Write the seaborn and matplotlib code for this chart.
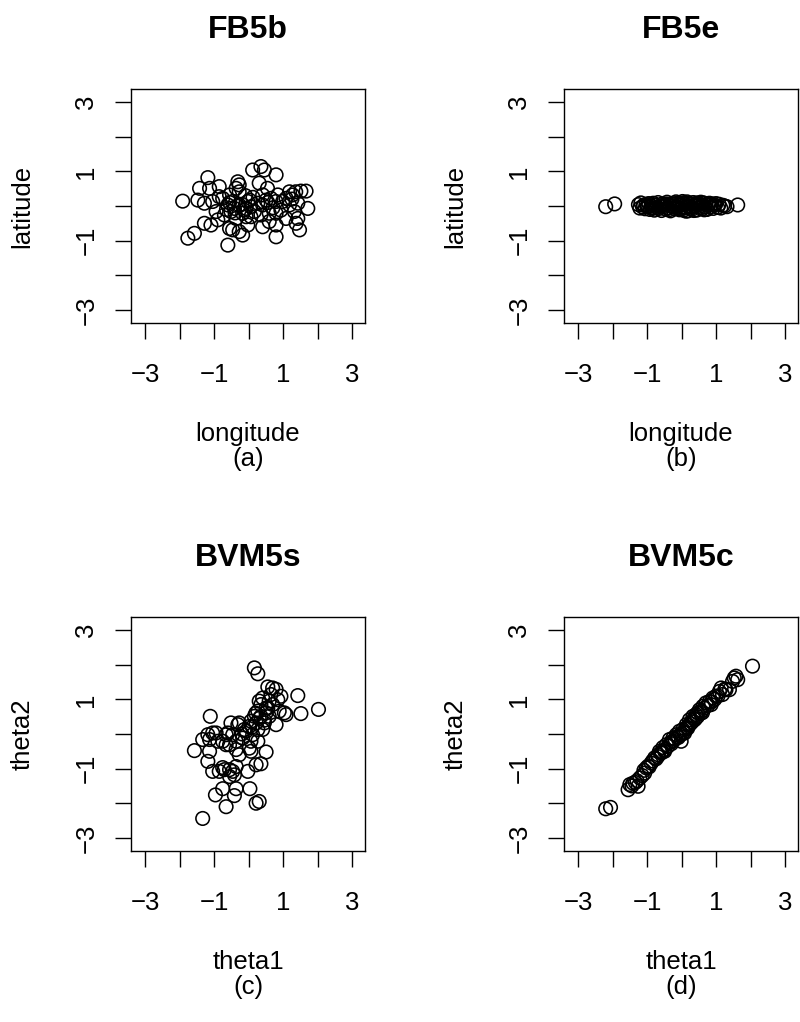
import matplotlib
matplotlib.use("Agg")
import matplotlib.pyplot as plt
import seaborn as sns
import numpy as np
import pandas as pd

# ---------------- data ----------------
titles = ["FB5b", "FB5e", "BVM5s", "BVM5c"]
xlabels = ["longitude\n(a)", "longitude\n(b)", "theta1\n(c)", "theta1\n(d)"]
ylabels = ["latitude", "latitude", "theta2", "theta2"]
tick_values = [-3, -2, -1, 0, 1, 2, 3]
tick_labels = ["\u22123", "", "\u22121", "", "1", "", "3"]

a_x = [-1.92, -1.77, -1.58, -1.19, -1.43, -1.48, -1.29, -1.14, -0.86, -1.05,
       -1.29, -1.10, -0.90, -0.95, -0.76, -0.56, -0.61, -0.61, -0.56, -0.47,
       -0.28, -0.18, -0.37, -0.28, -0.32, -0.37, -0.47, -0.28, -0.13, -0.03,
       0.06, -0.08, -0.03, 0.11, 0.35, 0.45, 0.79, 0.30, 0.54, 0.40,
       0.50, 0.40, 0.64, 0.79, 0.84, 0.98, 0.59, 0.40, 0.59, 0.79,
       0.79, 1.08, 1.27, 1.36, 1.51, 1.66, 1.71, 1.42, 1.32, 1.42,
       1.47, 1.37, 1.18, 1.08, 0.26, 0.16, -0.18, -0.42, -0.71, -0.86,
       0.02, -0.08, -0.52, 0.93, 1.18, 0.35, -0.28, 0.06, 0.79, -0.56,
       -0.20, -0.40, 0.12, 0.55, 0.70, -0.65, 1.25, -0.10]
a_y = [0.14, -0.93, -0.79, 0.82, 0.51, 0.17, 0.08, 0.51, 0.56, 0.13,
       -0.50, -0.55, -0.40, -0.16, 0.22, 0.32, 0.03, -1.13, -0.65, -0.69,
       -0.74, -0.84, -0.36, 0.61, 0.70, 0.51, 0.13, 0.03, -0.12, 0.13,
       -0.02, -0.31, -0.55, 1.04, 1.14, 1.04, 0.90, 0.66, 0.51, 0.32,
       0.17, 0.03, 0.22, 0.13, 0.32, 0.13, -0.21, -0.60, -0.45, -0.55,
       -0.89, -0.36, 0.32, 0.41, 0.43, 0.43, -0.07, 0.08, -0.16, -0.36,
       -0.69, -0.50, 0.03, 0.22, 0.08, -0.16, -0.21, -0.07, -0.26, 0.27,
       0.17, -0.07, -0.16, -0.12, 0.41, -0.26, 0.41, -0.31, -0.21, 0.10,
       0.05, -0.20, 0.25, 0.10, -0.05, -0.10, 0.20, 0.30]

b_x = [-2.21, -1.95, -1.26, -1.22, -1.19, -1.14, -1.11, -1.07, -1.04, -0.99,
       -0.96, -0.93, -0.89, -0.86, -0.83, -0.80, -0.76, -0.73, -0.69, -0.66,
       -0.63, -0.59, -0.57, -0.52, -0.49, -0.47, -0.43, -0.40, -0.37, -0.33,
       -0.30, -0.27, -0.23, -0.20, -0.17, -0.13, -0.11, -0.07, -0.04, 0.00,
       0.03, 0.07, 0.10, 0.12, 0.16, 0.19, 0.23, 0.27, 0.30, 0.33,
       0.36, 0.39, 0.43, 0.46, 0.49, 0.53, 0.57, 0.60, 0.63, 0.67,
       0.70, 0.73, 0.77, 0.80, 0.83, 0.87, 0.91, 0.95, 0.99, 1.04,
       1.08, 1.13, 1.19, 1.24, 1.31, 1.62, -0.55, -0.35, -0.15, 0.05,
       0.15, 0.25, 0.45, 0.65, -0.25, 0.35, 0.55, -0.45, 0.02, -0.05,
       0.18, 0.38, -1.00, -0.80, 0.85]
b_y = [-0.02, 0.06, 0.04, -0.06, 0.09, -0.03, 0.02, -0.08, 0.05, -0.02,
       0.07, -0.10, 0.01, -0.05, 0.08, -0.12, 0.03, -0.04, 0.10, -0.07,
       0.00, -0.13, 0.06, -0.02, 0.04, -0.09, 0.11, -0.05, 0.02, -0.14,
       0.07, -0.01, 0.05, -0.08, 0.12, -0.04, 0.03, -0.11, 0.06, -0.02,
       0.09, -0.06, 0.04, -0.15, 0.01, 0.08, -0.03, 0.05, -0.09, 0.10,
       -0.01, 0.06, -0.12, 0.03, 0.07, -0.05, 0.02, -0.08, 0.09, -0.03,
       0.05, -0.10, 0.04, 0.08, -0.02, 0.06, -0.07, 0.03, 0.07, -0.04,
       0.05, -0.06, 0.02, 0.00, -0.02, 0.03, 0.01, -0.10, 0.08, -0.12,
       0.12, -0.07, 0.09, -0.11, 0.04, -0.13, 0.11, 0.06, 0.13, -0.09,
       -0.14, 0.00, 0.01, -0.06, 0.04]

c_x = [0.16, 0.26, 0.55, 0.69, 0.79, 0.93, 1.42, 1.51, 2.02, 1.03,
       1.08, 0.40, 0.59, 0.35, 0.50, 0.26, 0.16, 0.35, 0.59, 0.79,
       0.45, 0.21, 0.06, 0.01, 0.26, 0.40, 0.11, -0.08, -0.18, 0.26,
       0.06, 0.50, 0.35, 0.21, -0.03, -0.37, -0.37, -0.52, -0.32, -0.47,
       -0.61, -0.76, -0.66, -0.56, -1.12, -1.05, -1.19, -1.34, -1.58, -1.14,
       -1.19, -1.05, -0.86, -0.76, -0.56, -0.42, -0.37, -0.47, -0.76, -0.97,
       -0.37, -0.42, 0.03, -0.66, 0.21, 0.30, -1.34, -0.90, -0.95, -1.14,
       -0.28, -0.13, 0.06, -0.28, 0.50, 0.69, 0.84, 0.64, 0.30, 0.88,
       0.01, -0.66, -0.56, -0.71, 0.30, 0.45, 0.20, 0.10, -0.20, 0.55]
c_y = [1.91, 1.74, 1.36, 1.33, 1.29, 1.09, 1.11, 0.59, 0.71, 0.61,
       0.56, 1.04, 0.95, 0.85, 0.75, 0.66, 0.51, 0.51, 0.51, 0.27,
       0.32, 0.32, 0.37, 0.22, 0.13, 0.13, -0.02, 0.08, -0.12, -0.21,
       -0.50, -0.52, -0.86, -0.89, -1.08, -0.45, -0.21, 0.32, 0.27, -0.02,
       0.03, -0.21, -0.31, -0.31, 0.51, 0.03, -0.02, -0.16, -0.48, -0.50,
       -0.79, -1.08, -1.08, -0.97, -1.03, -1.18, -0.94, -1.08, -1.58, -1.76,
       -1.58, -1.78, -1.58, -2.10, -2.00, -1.95, -2.44, -0.21, 0.03, -0.16,
       0.32, 0.13, -0.21, -0.60, 0.61, 0.85, 0.99, 1.14, 0.95, 0.66,
       -0.41, -0.02, -1.23, -1.03, 0.45, 0.40, 0.60, 0.20, 0.00, 0.75]

d_x = [2.05, -2.21, -2.07, -1.56, -1.51, -1.42, -1.27, -1.22, -1.08, -1.03,
       -0.98, -0.89, -0.79, -0.69, -0.65, -0.55, -0.50, -0.45, -0.36, -0.31,
       -0.26, -0.16, -0.12, -0.07, -0.02, 0.03, 0.08, 0.13, 0.17, 0.22,
       0.32, 0.41, 0.46, 0.51, 0.56, 0.61, 0.70, 0.80, 0.85, 0.90,
       0.99, 1.09, 1.14, 1.18, 1.28, 1.38, 1.47, 1.52, 1.57, 1.62,
       -1.35, -1.15, -0.95, -0.85, -0.75, -0.60, -0.40, -0.20, -0.10, 0.00,
       0.05, 0.10, 0.20, 0.30, 0.35, 0.45, 0.55, 0.65, 0.75, 0.95,
       1.05, 0.25, -0.30, -0.50, -0.70, -1.30, -1.45, -1.10, 0.15, -0.05,
       0.38, 0.60, -0.25, -0.58, 0.85, 1.25]
d_y = [1.96, -2.16, -2.12, -1.61, -1.46, -1.42, -1.51, -1.27, -1.13, -0.98,
       -0.93, -0.84, -0.69, -0.60, -0.50, -0.39, -0.45, -0.31, -0.16, -0.23,
       -0.12, -0.02, -0.07, 0.08, -0.21, 0.13, 0.03, 0.27, 0.17, 0.41,
       0.51, 0.56, 0.61, 0.70, 0.66, 0.80, 0.90, 0.94, 0.85, 1.04,
       1.09, 1.23, 1.33, 1.14, 1.28, 1.28, 1.52, 1.62, 1.67, 1.57,
       -1.40, -1.20, -0.95, -0.78, -0.72, -0.55, -0.35, -0.15, -0.10, 0.00,
       0.05, 0.15, 0.25, 0.35, 0.45, 0.50, 0.60, 0.75, 0.82, 1.00,
       1.10, 0.30, -0.28, -0.50, -0.65, -1.35, -1.50, -1.05, 0.20, -0.02,
       0.42, 0.62, -0.20, -0.52, 0.92, 1.30]

panels = [(a_x, a_y), (b_x, b_y), (c_x, c_y), (d_x, d_y)]

# ---------------- figure ----------------
sns.set_style("white")
plt.rcParams["font.family"] = ["Liberation Sans", "DejaVu Sans"]
plt.rcParams["text.color"] = "black"
plt.rcParams["axes.labelcolor"] = "black"
plt.rcParams["axes.titlecolor"] = "black"

fig = plt.figure(figsize=(8.0, 10.22), dpi=100)
W, H = 800.0, 1022.0
lefts = [131 / W, 564 / W]
bottoms = [1 - 323 / H, 1 - 851 / H]
aw, ah = 234 / W, 234 / H

for i, (xs, ys) in enumerate(panels):
    r, c = divmod(i, 2)
    ax = fig.add_axes([lefts[c], bottoms[r], aw, ah])
    df = pd.DataFrame({"x": xs, "y": ys})
    sns.scatterplot(data=df, x="x", y="y", ax=ax, marker="o", s=95,
                    facecolor="none", edgecolor="black", linewidth=1.15)
    ax.set_xlim(-3.42, 3.37)
    ax.set_ylim(-3.38, 3.38)
    ax.set_xticks(tick_values)
    ax.set_xticklabels(tick_labels)
    ax.set_yticks(tick_values)
    ax.set_yticklabels(tick_labels, rotation=90, va="center")
    for s in ax.spines.values():
        s.set_visible(True)
        s.set_color("black")
        s.set_linewidth(1.0)
    ax.tick_params(axis="both", which="major", bottom=True, left=True,
                   top=False, right=False, direction="out", length=11.5,
                   width=1.0, color="black", labelsize=18.5,
                   labelcolor="black")
    ax.tick_params(axis="x", pad=17)
    ax.tick_params(axis="y", pad=12)
    ax.set_title(titles[i], fontsize=23, fontweight="bold", pad=37,
                 color="black")
    ax.set_xlabel(xlabels[i], fontsize=18.5, linespacing=1.05, color="black")
    ax.xaxis.label.set_va("top")
    ax.xaxis.set_label_coords(0.5, -0.425)
    ax.set_ylabel(ylabels[i], fontsize=18.5, color="black")
    ax.yaxis.label.set_va("center")
    ax.yaxis.set_label_coords(-(131 - 22.5) / 234, 0.5)

fig.savefig("out.png", dpi=100, facecolor="white")
